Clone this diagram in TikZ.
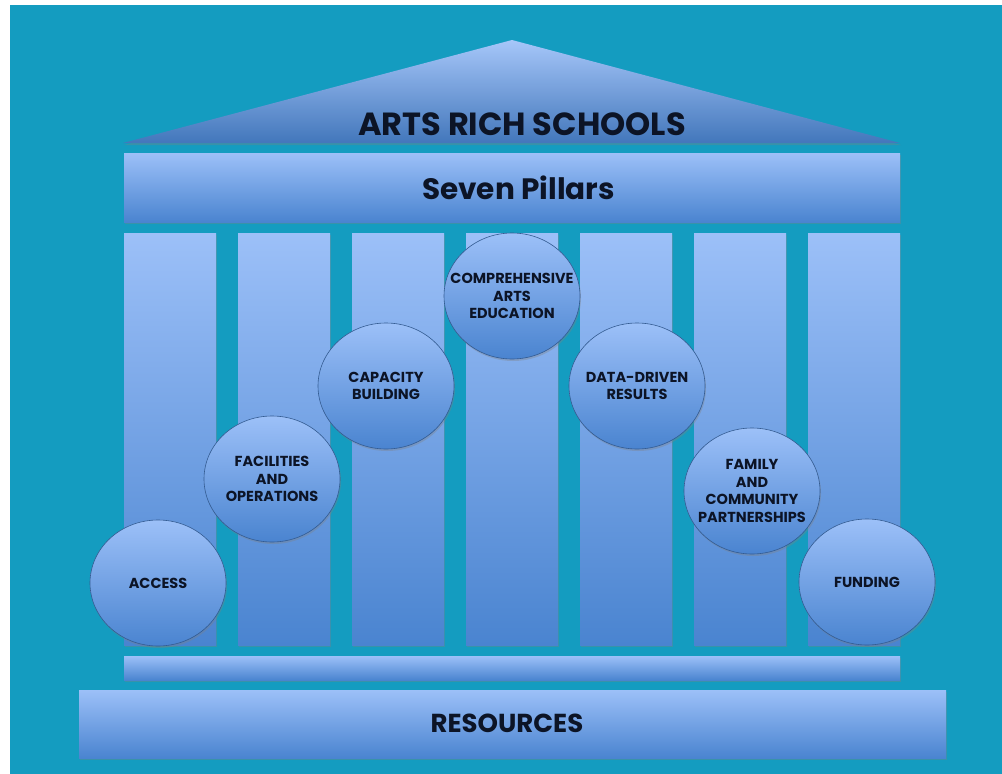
\documentclass[tikz,border=0pt]{standalone}
\usepackage{fontspec}
\setmainfont{Poppins}
\usetikzlibrary{shapes.geometric,shadows}
\definecolor{teal}{RGB}{20,156,192}
\definecolor{lightblue}{RGB}{156,192,248}
\definecolor{midblue}{RGB}{74,132,208}
\definecolor{ink}{RGB}{12,20,38}
\tikzset{
	slab/.style={rectangle, inner sep=0pt, top color=lightblue, bottom color=midblue,
		drop shadow={shadow xshift=1pt, shadow yshift=-2pt, opacity=0.35}},
	pillar/.style={slab, minimum width=92pt, minimum height=412pt},
	medallion/.style={ellipse, draw=midblue!70!black, line width=0.6pt, inner sep=0pt,
		minimum width=136pt, minimum height=126pt, top color=lightblue, bottom color=midblue,
		drop shadow={shadow xshift=1pt, shadow yshift=-2pt, opacity=0.35}},
	medtext/.style={text=ink, font=\fontsize{14.5}{17.5}\selectfont\bfseries, align=center, inner sep=0pt}
}
\begin{document}
\begin{tikzpicture}[x=1pt, y=-1pt]
	\useasboundingbox (0,0) rectangle (1002,774);
	\fill[white] (0,0) rectangle (1002,774);
	\fill[teal] (10,5) rectangle (1002,774);

	% roof
	\shade[top color=lightblue!90!white, bottom color=midblue!90!black,
		drop shadow={shadow xshift=1pt, shadow yshift=-2pt, opacity=0.35}]
		(123,143) -- (512,40) -- (900,143) -- cycle;
	\node[text=ink, font=\fontsize{32}{36}\selectfont\bfseries] (roof) at (522,124) {ARTS RICH SCHOOLS};

	% entablature, stylobate and base
	\node[slab, minimum width=776pt, minimum height=69pt] (frieze) at (512,187.5) {};
	\node[text=ink, font=\fontsize{29.5}{33}\selectfont\bfseries] (frieze text) at (518.5,188) {Seven Pillars};
	\foreach \i in {0,...,6}
		\node[pillar] (p\i) at (170+114*\i, 439) {};
	\node[slab, minimum width=776pt, minimum height=24pt] (step) at (512,668) {};
	\node[slab, minimum width=867pt, minimum height=68pt] (base) at (512.5,724) {};
	\node[text=ink, font=\fontsize{26}{30}\selectfont\bfseries] (base text) at (507,723) {RESOURCES};

	% the seven pillars
	\node[medallion] (access) at (158,583) {};
	\node[medtext] at (access) {ACCESS};
	\node[medallion] (facilities) at (272,479) {};
	\node[medtext] at (facilities) {FACILITIES\\AND\\OPERATIONS};
	\node[medallion] (capacity) at (386,386) {};
	\node[medtext] at (capacity) {CAPACITY\\BUILDING};
	\node[medallion] (comprehensive) at (512,296) {};
	\node[medtext] at (comprehensive) {COMPREHENSIVE\\ARTS\\EDUCATION};
	\node[medallion] (data) at (637,386) {};
	\node[medtext] at (data) {DATA-DRIVEN\\RESULTS};
	\node[medallion] (family) at (752,491) {};
	\node[medtext] at (family) {FAMILY\\AND\\COMMUNITY\\PARTNERSHIPS};
	\node[medallion] (funding) at (867,582) {};
	\node[medtext] at (funding) {FUNDING};
\end{tikzpicture}
\end{document}
